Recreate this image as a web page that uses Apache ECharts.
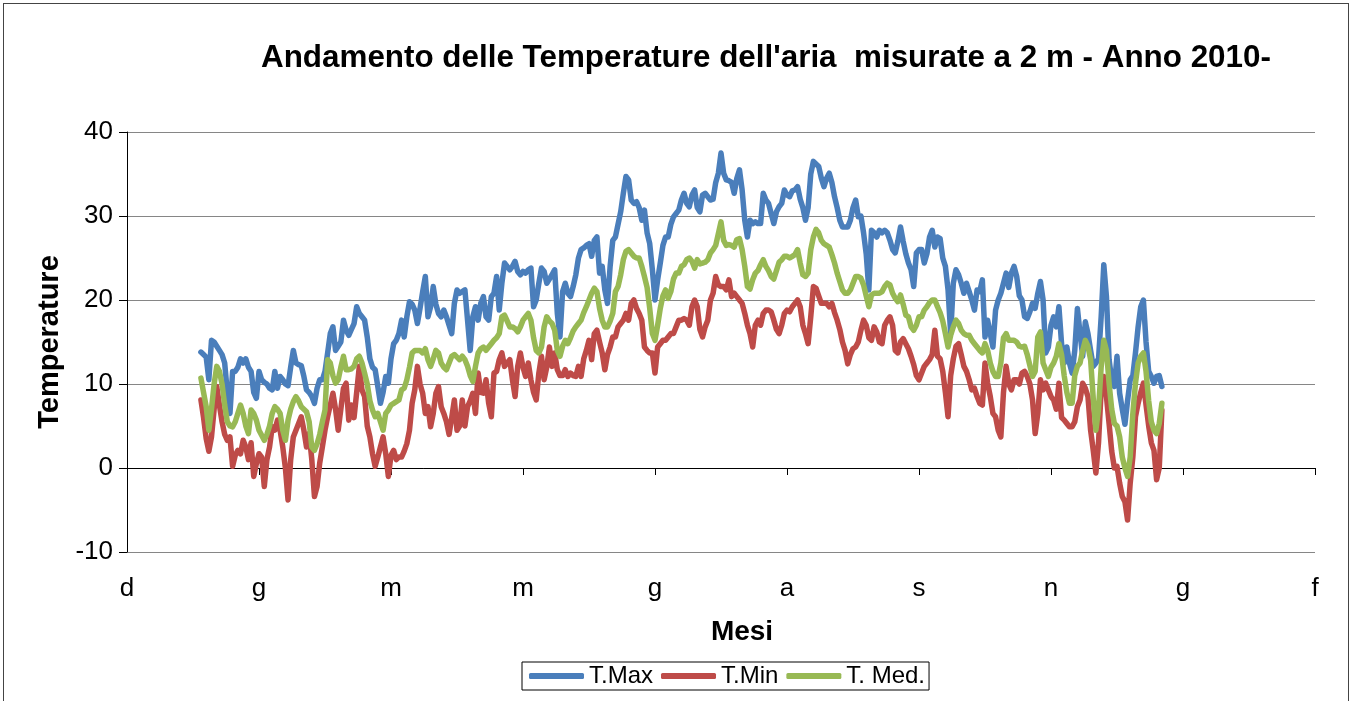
<!DOCTYPE html>
<html>
<head>
<meta charset="utf-8">
<script src="https://cdn.jsdelivr.net/npm/echarts@6/dist/echarts.min.js"></script>
<style>
html,body{margin:0;padding:0;background:#fff;}
#wrap{position:relative;width:1354px;height:701px;overflow:hidden;}
#chart{position:absolute;left:0;top:0;width:1354px;height:701px;}
#frame{position:absolute;left:3px;top:3px;width:1346px;height:710px;border:1.5px solid #444;box-sizing:border-box;pointer-events:none;}
</style>
</head>
<body>
<div id="wrap"><div id="chart"></div><div id="frame"></div></div>
<script>
// Axis is counted in days from 4 Dec 2009; 1 Jan 2010 is day 28.
const firstDay = 28;
const tickLabels = ['d','g','m','m','g','a','s','n','g','f'];

const tMax = [
13.8,13.5,13.2,10.5,15.2,15,14.5,14,13.5,12.5,
9,6.5,11.5,11.5,12,13,12.5,13,12,11.5,
9,8.3,11.5,10.5,10.2,10,9.5,9.3,11.5,9.5,
10.9,10.5,10,9.8,12,14,12.5,12.3,12.2,10.9,
9.3,9,8.5,7.7,9.5,10.5,10.5,11.5,13.7,16,
16.8,14,14.5,15,17.6,16.4,15.8,16.5,17.2,19.2,
18.4,18,17.6,15.6,13,12,11.7,9.7,7.7,9,
10.9,10.1,13,14.8,15.2,16,17.6,15.6,18,19.8,
19.5,18.8,17.2,19,21,22.8,18,19.2,21.6,19.5,
18.4,18,18.8,18,17,16,19.6,21.2,20.8,21,
21.2,17.6,14,18,19.2,17.6,19.6,20.4,18,17.6,
20.4,20.8,22.8,18.8,22,24.4,24,23.6,24,24.6,
23.4,23,23.4,23.2,23.6,23.8,19.2,20,22,23.8,
23.4,22,22.5,23,23.6,18.4,15.6,21,22,20.8,
20.4,21.6,23,25,26,26.2,26.5,26.7,25.2,27.1,
27.5,23.2,24,21.2,19.6,24,27.1,27.5,29,30.5,
32.7,34.7,34.3,31.9,31.5,31.7,31,29.5,30.7,28,
26.7,23.6,20,22.4,24.4,26.5,27.5,27.5,29,29.9,
30.3,30.7,31.9,32.7,31.5,31.1,32.5,33.1,31,30.5,
32.5,32.7,32.3,31.9,32,34,35.1,37.5,35.1,34.3,
34.2,34,32.7,34.5,35.5,33.1,29.5,27.5,29.5,29.1,
29.3,29.1,29.1,32.7,31.9,31.5,30.3,29.1,30.5,31.1,
31.5,33.1,32.5,32.3,33,33.1,33.5,32,31,29.5,
31,35,36.5,36.2,35.9,34.5,33.5,34.5,35.1,34,
32.3,31,29.5,28.7,28.7,28.7,29.5,31,31.9,29.9,
30,28,25.5,21.2,28.3,28,27.5,28.3,28,28.3,
28,27.1,26,25.6,27,28.7,27,25.5,24.4,23.6,
21.6,25.6,26,26,24.4,25.5,27.5,28.3,26.3,27.5,
27.3,25,24,21.2,16,22,23.6,23,22,20.8,
22,21,20,18.8,21.2,21,22.4,15.6,17.6,16,
14.4,18.8,20,20.8,22,23.2,21.5,23.2,24,22.8,
20.5,20,18,17.8,18.6,19.6,19,20.8,22.2,20,
13.7,14.4,17,18,16.8,19.2,14.8,12.5,14.4,12.5,
11.3,14,19,16,13.3,17.4,16,14,12.1,12.5,
13,18,24.2,20.4,12.9,10.5,9.7,13.3,8.9,7,
5.2,8,10.5,11,13.7,16.8,19.2,20,15,11.5,
10.9,10.1,10.9,11,9.7
];

const tMin = [
8.1,6,3.5,2,3.7,7,9.7,7.5,5.5,4,
3.3,3.7,0.2,1.5,2.1,1.7,3.3,2.5,1,3,
-1,0.5,1.7,1.3,-2.2,1,2.5,4.9,4.5,5.7,
4.5,2.5,0,-3.8,1,3.7,4.5,5.3,6.1,4.5,
2.5,4.1,1,-3.4,-2.2,0.6,2.5,4.5,6.1,7.5,
8.9,7,4.5,7,9.5,10.1,5.7,7.5,6,9,
12.1,9.3,8.5,5,3.7,1.7,0.2,1.3,2.5,3.7,
1.7,-1,1.5,2.1,1,1.3,1.3,2,2.9,4.5,
7.7,9.3,12.1,10,8.9,6.5,7.3,4.9,6.5,8.9,
9.7,7.3,6.5,5.5,4,6,8.1,4.5,5,8.1,
5,7.3,8,8.9,6.5,11.3,9,8.9,10.5,7.7,
6.1,11.3,11.5,12.9,13.7,12.1,12.5,12.9,10.5,8.5,
12.1,13.7,12,10.9,12.5,10.5,9,8.1,11.3,13.3,
10.5,12,14.4,12.1,13.7,11.7,11,11,11.7,10.9,
11.3,11,10.9,12.1,10.9,13,14,15.2,12.9,16,
16.4,15,13.7,11.7,13.5,14.4,15.6,15.6,16.8,17.2,
17.6,18.4,17.6,19.6,20,19,18.4,17.6,14.4,14,
13.7,13.7,11.3,14.4,14.8,15.2,15.2,15.6,16,16,
16.8,17.6,17.6,17.8,17.6,17,19.2,20,19.2,16.5,
15.6,16.8,17.6,20,20.8,22.8,21.8,21.6,21.6,21.2,
22.4,20.4,20.8,20.4,20,19.6,18.4,17,16,14.4,
17,17.6,17,18.4,18.8,18.8,18.6,17.6,16.5,16,
17,18.4,18.8,18.6,19.2,19.6,20,19.2,17,16,
14.8,18,21.6,21.4,20.5,19.6,19.6,19.6,19.2,19.6,
18.5,17.6,16.5,15,14,12.4,13.5,14.2,14.4,15,
16.4,17.6,17,15.5,15.2,16.8,16.2,15,14.8,17,
17.6,18,17,14,13.7,15,15.4,14.8,14.2,13.3,
12.3,11,10.5,11.3,12.1,12.5,12.9,13.5,16.4,13.3,
13,11.5,9,6.1,11,13,14.5,14.8,13.5,12.1,
11.5,10.5,9.3,9.5,8.5,7.7,7.5,12.5,10.1,8.5,
6.5,6.1,4.5,3.7,9,12.1,10,9.3,10.5,10.5,
10,11.3,11.5,10.9,10,8.1,4.1,6.5,10.5,9.3,
10.1,9.3,8.5,8.1,7,10.1,6,5.7,5.3,4.9,
4.9,5.5,7.3,8.1,10.1,9.5,8.5,4.5,2.1,-0.6,
3,9.3,10.9,8.5,5.3,2,0,0.2,-1.8,-3.4,
-4,-6.2,-1.8,1.3,6.1,7.7,9,10.1,7.5,5,
3,2.1,-1.4,0,6.9
];

const tMed = [
10.7,9,7.3,4.5,7,10,12.1,11.5,10,7.5,
5.5,5,4.9,5.5,6.5,7.5,6.5,5,4.1,6.9,
6.5,5.7,4.5,3.9,3.3,4,5,6.5,7.3,7,
6.5,4.5,3.3,5.7,7,7.9,8.5,8,7.3,7,
6.7,5.5,2.5,2.1,2.9,4,5.5,6.9,12.9,12.5,
11,10.1,10.5,12,13.3,11.7,11.7,11.8,12.1,13,
13.3,12.5,11.3,10,8,6.9,6.1,6.5,5.5,4.5,
6.5,6.9,7.5,7.7,7.9,8.1,9.3,9.5,10.5,12,
13.7,14,14,14,13.7,14.2,12.9,12.1,13,14,
13.7,12.5,12,11.7,12.5,13.3,13.5,13.2,12.9,13.3,
12.9,12.1,11,10.3,12.1,13.7,14.2,14.4,14,14.4,
14.8,15.2,15.5,16,18,18.2,17.5,16.8,16.8,16.6,
16.2,16.8,17.6,18,18.4,17.6,15.5,14,13.7,14.4,
16.8,18,17.5,17.2,16.4,14,13.3,14.5,15.2,14.8,
15.5,16.3,16.8,17.2,17.6,18.5,19.2,20,20.8,21.4,
21,19,17.6,16.8,16.8,17.5,18.4,21,21.6,23,
24.8,25.8,26,25.6,25.2,25,25,24,22.8,21.5,
19,16,15.2,17,19,20.5,21.2,20.2,21,22.5,
23.2,23.2,24,24.2,24.8,25,24.6,23.8,24.8,24.3,
24.4,24.5,24.8,25.6,26,26.5,27.9,29.3,27.1,26.5,
26.6,26.5,26.3,27.2,27.3,26,24,21.6,21.3,22.4,
23.2,23.5,24.2,24.8,24,23.5,22.8,22.5,23.5,24.5,
24.8,25.2,25.2,25,25.2,25.4,26,24.4,23,22.8,
23.2,26,27.5,28.4,28,27.1,26.7,26.5,26.3,25.4,
24.4,23.2,22.2,21.2,20.8,20.8,21.2,22,22.8,22.8,
22.6,21.8,20.5,19.2,20.6,20.8,20.8,20.8,21,21.6,
22,21.8,20.8,20.2,19.8,20.6,19.5,18.2,18,16.8,
16.4,17,18,18,18.8,19.2,19.7,20,20,19.2,
18.5,17.5,16,14.4,15.8,16.8,17.6,17.2,16.4,16,
15.8,15.8,15.2,14.8,14.4,14,13.7,14.8,14,12.5,
11.5,10.9,10.9,12.5,15.5,16,15.2,15.2,15.2,15,
14.5,14.4,14.5,13.5,12.2,10.9,11.5,15.6,16.2,12.5,
11.7,10.9,12,12.5,13.3,14.8,13.5,11,9,7.7,
7.7,11,12.1,12.5,14,15.2,14.5,12.9,8.3,4.5,
7,12,15.2,14,10.1,7,5.3,5,3.7,1.3,
0,-1,1.3,6.5,10.1,12.5,13.3,13.7,11.5,8,
5.5,4.5,4.1,5.3,7.7
];

const seriesNames = ['T.Max','T.Min','T. Med.'];
const seriesColors = ['#4A7EBB','#BE4B48','#98B954'];
const FONT = "'Liberation Sans', Arial, sans-serif";

function toPoints(arr){ return arr.map((v,i)=>[firstDay+i, v]); }

const chart = echarts.init(document.getElementById('chart'), null, {renderer:'canvas'});
chart.setOption({
  animation:false,
  title:{
    text:"Andamento delle Temperature dell'aria  misurate a 2 m - Anno 2010-",
    left:261, top:43, padding:0,
    textStyle:{fontFamily:FONT, fontWeight:'bold', fontSize:31.4, color:'#000'}
  },
  grid:{left:127, right:39, top:132, bottom:149, containLabel:false},
  legend:{
    data:seriesNames, left:522, top:662,
    borderColor:'#000', borderWidth:1, padding:[2,4,2,7],
    itemGap:8, itemWidth:55, itemHeight:6, icon:'roundRect',
    textStyle:{fontFamily:FONT, fontSize:24, color:'#000'}
  },
  xAxis:[{
    type:'value', min:0, max:450, interval:50, position:'bottom',
    axisLine:{show:false, onZero:false}, axisTick:{show:false}, splitLine:{show:false},
    axisLabel:{formatter:v=>tickLabels[Math.round(v/50)], fontFamily:FONT, fontSize:26, color:'#000', margin:24, showMinLabel:true, showMaxLabel:true},
    name:'Mesi', nameLocation:'middle', nameGap:66,
    nameTextStyle:{fontFamily:FONT, fontWeight:'bold', fontSize:28, color:'#000', padding:[0,0,0,42]}
  },{
    type:'value', min:0, max:450, interval:50, position:'bottom',
    axisLine:{show:true, onZero:true, lineStyle:{color:'#000', width:1}},
    axisTick:{show:true, length:7, lineStyle:{color:'#000', width:1}},
    axisLabel:{show:false}, splitLine:{show:false}
  }],
  yAxis:{
    type:'value', min:-10, max:40, interval:10,
    axisLine:{show:true, lineStyle:{color:'#000', width:1}},
    axisTick:{show:true, length:8, lineStyle:{color:'#000'}},
    splitLine:{show:true, lineStyle:{color:'#868686', width:1}},
    axisLabel:{fontFamily:FONT, fontSize:26, color:'#000', margin:14},
    name:'Temperature', nameLocation:'middle', nameGap:60,
    nameTextStyle:{fontFamily:FONT, fontWeight:'bold', fontSize:29, color:'#000'}
  },
  series:[tMax,tMin,tMed].map((arr,k)=>({
    name:seriesNames[k], type:'line', data:toPoints(arr), xAxisIndex:0,
    showSymbol:false, symbol:'none', silent:true,
    color:seriesColors[k],
    lineStyle:{width:5.5, color:seriesColors[k], join:'round', cap:'round'}
  }))
});
</script>
</body>
</html>
